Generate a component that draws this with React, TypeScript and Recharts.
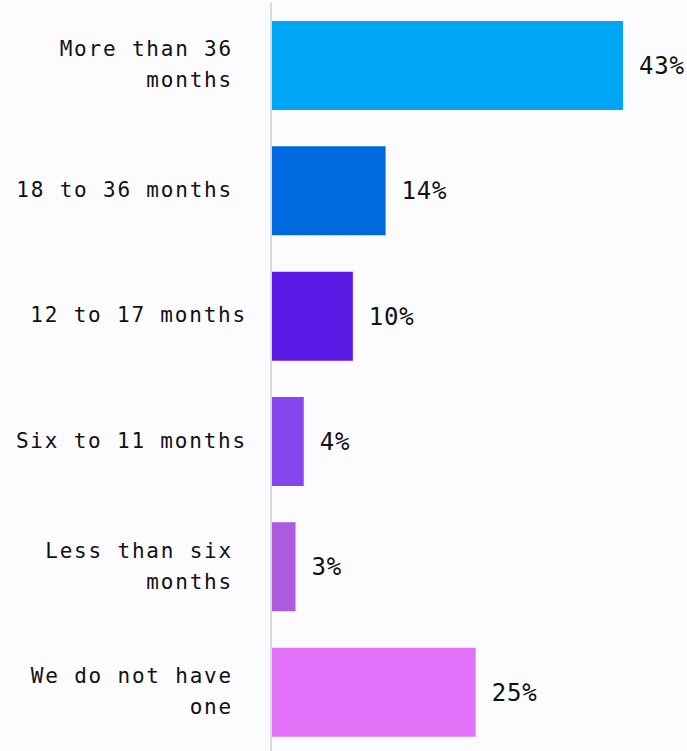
import { BarChart, Bar, XAxis, YAxis, Cell, LabelList } from 'recharts'

const categories = [
  'More than 36\nmonths',
  '18 to 36 months',
  '12 to 17 months',
  'Six to 11 months',
  'Less than six\nmonths',
  'We do not have\none',
]
const shares = [43, 14, 10, 4, 3, 25]
const barColors = ['#00a6f6', '#0069df', '#5b1ae5', '#8646ee', '#ab5bdd', '#e272fa']
// single-line labels that sit further right
const wideLabels = ['12 to 17 months', 'Six to 11 months']

const chartData = categories.map((name, i) => ({ name, share: shares[i] }))

const FONT = '"DejaVu Sans Mono", monospace'

function CategoryTick(props: any) {
  const { x, y, payload } = props
  const lines: string[] = String(payload.value).split('\n')
  const right = wideLabels.includes(payload.value) ? x : x - 14
  const lineH = 31
  const startY = y - ((lines.length - 1) * lineH) / 2
  return (
    <text
      x={right}
      y={startY}
      textAnchor="end"
      fill="#111"
      fontSize={21}
      fontFamily={FONT}
      letterSpacing={1.8}
    >
      {lines.map((l, i) => (
        <tspan key={i} x={right} dy={i === 0 ? 6 : lineH}>
          {l}
        </tspan>
      ))}
    </text>
  )
}

export default function App() {
  return (
    <div style={{ position: 'absolute', left: 0, top: 0, width: 687, height: 751, overflow: 'hidden', background: '#fcfcfe' }}>
      <BarChart
        width={687}
        height={755}
        data={chartData}
        layout="vertical"
        margin={{ top: 3, right: 64, bottom: 0, left: 0 }}
        barSize={89}
      >
        <XAxis type="number" domain={[0, 43]} hide />
        <YAxis
          type="category"
          dataKey="name"
          width={271}
          axisLine={{ stroke: '#dcdcdc', strokeWidth: 2 }}
          tickLine={false}
          tick={<CategoryTick />}
          tickMargin={18}
        />
        <Bar dataKey="share" isAnimationActive={false}>
          {chartData.map((d, i) => (
            <Cell key={d.name} fill={barColors[i]} />
          ))}
          <LabelList
            dataKey="share"
            position="right"
            offset={16}
            formatter={(v: any) => `${v}%`}
            fill="#111"
            fontSize={24}
            fontFamily={FONT}
            letterSpacing={0.8}
          />
        </Bar>
      </BarChart>
    </div>
  )
}
